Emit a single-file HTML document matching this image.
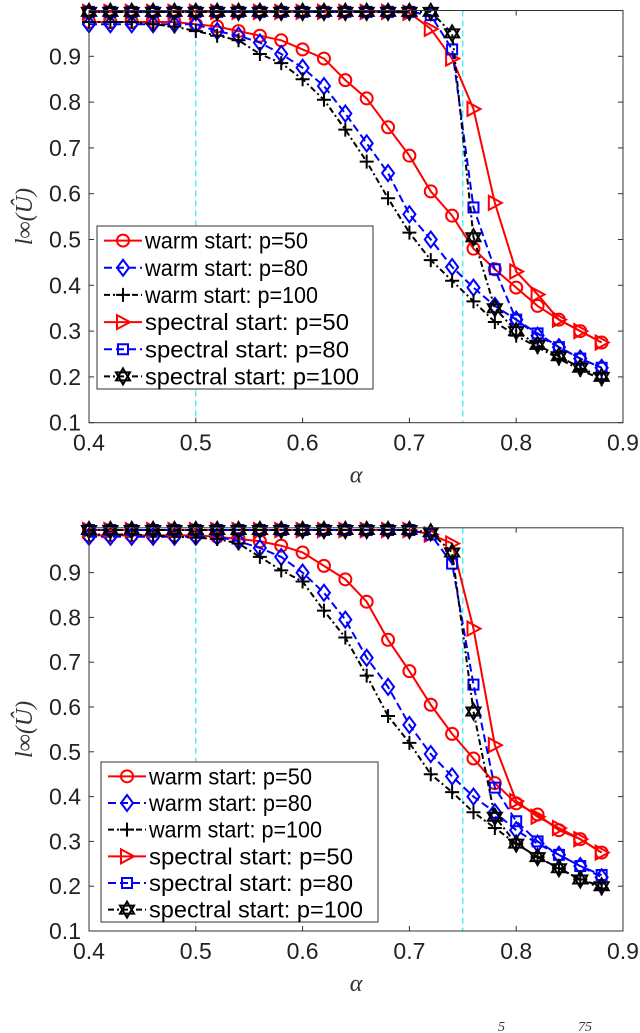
<!DOCTYPE html>
<html><head><meta charset="utf-8">
<style>
html,body{margin:0;padding:0;background:#fff;}
svg{display:block;font-family:"Liberation Sans",sans-serif;}
</style></head>
<body>
<svg id="chart" width="640" height="1033" viewBox="0 0 640 1033" xmlns="http://www.w3.org/2000/svg"></svg>
<script>
const alphas=[0.40,0.42,0.44,0.46,0.48,0.50,0.52,0.54,0.56,0.58,0.60,0.62,0.64,0.66,0.68,0.70,0.72,0.74,0.76,0.78,0.80,0.82,0.84,0.86,0.88];
const xTicks=[0.4,0.5,0.6,0.7,0.8,0.9];
const yTicks=[0.1,0.2,0.3,0.4,0.5,0.6,0.7,0.8,0.9];
const seriesNames=["warm start: p=50","warm start: p=80","warm start: p=100","spectral start: p=50","spectral start: p=80","spectral start: p=100"];
// top panel
const a_warm50=[0.975,0.975,0.975,0.975,0.975,0.97,0.965,0.955,0.945,0.935,0.915,0.895,0.848,0.808,0.745,0.683,0.605,0.552,0.48,0.435,0.395,0.355,0.325,0.30,0.275];
const a_warm80=[0.97,0.97,0.97,0.97,0.97,0.97,0.955,0.945,0.93,0.905,0.875,0.835,0.775,0.71,0.645,0.555,0.50,0.44,0.395,0.355,0.325,0.29,0.265,0.24,0.22];
const a_warm100=[0.975,0.975,0.975,0.97,0.965,0.955,0.945,0.935,0.905,0.885,0.85,0.805,0.74,0.67,0.59,0.515,0.455,0.41,0.365,0.32,0.29,0.265,0.24,0.215,0.195];
const a_spec50=[0.997,0.997,0.997,0.997,0.997,0.997,0.997,0.997,0.997,0.997,0.997,0.997,0.997,0.997,0.997,0.995,0.96,0.895,0.785,0.58,0.43,0.38,0.325,0.30,0.275];
const a_spec80=[0.997,0.997,0.997,0.997,0.997,0.997,0.997,0.997,0.997,0.997,0.997,0.997,0.997,0.997,0.997,0.997,0.99,0.915,0.57,0.435,0.325,0.295,0.265,0.24,0.22];
const a_spec100=[0.997,0.997,0.997,0.997,0.997,0.997,0.997,0.997,0.997,0.997,0.997,0.997,0.997,0.997,0.997,0.997,0.997,0.95,0.505,0.35,0.30,0.27,0.245,0.22,0.20];
// bottom panel
const b_warm50=[0.983,0.983,0.983,0.983,0.983,0.983,0.98,0.975,0.97,0.96,0.945,0.915,0.885,0.835,0.75,0.68,0.605,0.54,0.485,0.43,0.385,0.36,0.325,0.305,0.275];
const b_warm80=[0.98,0.98,0.98,0.98,0.98,0.98,0.98,0.97,0.955,0.935,0.90,0.855,0.795,0.71,0.645,0.56,0.495,0.445,0.40,0.365,0.325,0.295,0.27,0.245,0.22];
const b_warm100=[0.985,0.985,0.985,0.983,0.98,0.978,0.975,0.965,0.935,0.905,0.88,0.815,0.755,0.67,0.58,0.52,0.45,0.41,0.365,0.33,0.295,0.265,0.24,0.215,0.195];
const b_spec50=[0.995,0.995,0.995,0.995,0.995,0.995,0.995,0.995,0.995,0.995,0.995,0.995,0.995,0.995,0.995,0.995,0.985,0.965,0.775,0.515,0.39,0.355,0.33,0.305,0.275];
const b_spec80=[0.995,0.995,0.995,0.995,0.995,0.995,0.995,0.995,0.995,0.995,0.995,0.995,0.995,0.995,0.995,0.995,0.985,0.92,0.65,0.42,0.345,0.30,0.27,0.245,0.225];
const b_spec100=[0.995,0.995,0.995,0.995,0.995,0.995,0.995,0.995,0.995,0.995,0.995,0.995,0.995,0.995,0.995,0.995,0.99,0.945,0.59,0.355,0.295,0.265,0.24,0.215,0.20];

const NS="http://www.w3.org/2000/svg";
const svg=document.getElementById('chart');
function mk(tag,attrs,parent){const e=document.createElementNS(NS,tag);for(const k in attrs)e.setAttribute(k,attrs[k]);(parent||svg).appendChild(e);return e;}

const styles=[
 {c:"#ff0000",dash:"",m:"circle"},
 {c:"#0000ff",dash:"8,4",m:"diamond"},
 {c:"#000000",dash:"6,3,2,3",m:"plus"},
 {c:"#ff0000",dash:"",m:"tri"},
 {c:"#0000ff",dash:"8,4",m:"square"},
 {c:"#000000",dash:"6,3,2,3",m:"star"}
];

function marker(g,type,x,y,c){
  const a={fill:"none",stroke:c,"stroke-width":2};
  let e;
  if(type==="circle") e=mk('circle',Object.assign({cx:x,cy:y,r:6},a),g);
  else if(type==="diamond") e=mk('polygon',Object.assign({points:`${x},${y-8} ${x+6},${y} ${x},${y+8} ${x-6},${y}`},a),g);
  else if(type==="plus") e=mk('path',Object.assign({d:`M${x-7},${y}H${x+7}M${x},${y-7}V${y+7}`},a),g);
  else if(type==="tri") e=mk('polygon',Object.assign({points:`${x-6},${y-7} ${x+7},${y} ${x-6},${y+7}`},a),g);
  else if(type==="square") e=mk('rect',Object.assign({x:x-5,y:y-5,width:10,height:10},a),g);
  else { e=mk('path',Object.assign({d:`M${x},${y-8}L${x+7},${y+4}L${x-7},${y+4}ZM${x},${y+8}L${x+7},${y-4}L${x-7},${y-4}Z`},a),g); }
  
  
}

function panel(name,top,y01,yPer,data,leg){
  const x0=89,x1=623;
  const X=v=>x0+(v-0.4)/0.5*(x1-x0);
  const Y=v=>y01-(v-0.1)/0.1*yPer;
  const yTop=Y(1.0), yBot=Y(0.1);
  const g=mk('g',{});
  
  
  mk('rect',{x:x0,y:yTop,width:x1-x0,height:yBot-yTop,fill:"#fff",stroke:"none"},g);
  [0.5,0.75].forEach(v=>{
    const l=mk('line',{x1:X(v),x2:X(v),y1:yTop,y2:yBot,stroke:"#00e5ee","stroke-width":1,"stroke-dasharray":"6,4"},g);
    
    
  });
  xTicks.forEach(t=>{
    mk('line',{x1:X(t),x2:X(t),y1:yBot,y2:yBot-5,stroke:"#333"},g);
    mk('line',{x1:X(t),x2:X(t),y1:yTop,y2:yTop+5,stroke:"#333"},g);
    const tx=mk('text',{x:X(t),y:yBot+28,"font-size":23,"text-anchor":"middle",fill:"#222"},g);
    tx.textContent=t.toFixed(1);
    
    
  });
  yTicks.forEach(t=>{
    mk('line',{x1:x0,x2:x0+5,y1:Y(t),y2:Y(t),stroke:"#333"},g);
    mk('line',{x1:x1,x2:x1-5,y1:Y(t),y2:Y(t),stroke:"#333"},g);
    const tx=mk('text',{x:x0-8,y:Y(t)+8,"font-size":23,"text-anchor":"end",fill:"#222"},g);
    tx.textContent=t.toFixed(1);
    
    
  });
  data.forEach((vals,i)=>{
    const s=styles[i];
    const sg=mk('g',{},g);
    
    
    const pts=vals.map((v,k)=>X(alphas[k])+","+Y(v)).join(" ");
    mk('polyline',{points:pts,fill:"none",stroke:s.c,"stroke-width":2,"stroke-dasharray":s.dash},sg);
    vals.forEach((v,k)=>marker(sg,s.m,X(alphas[k]),Y(v),s.c));
  });
  mk('rect',{x:x0,y:yTop,width:x1-x0,height:yBot-yTop,fill:"none",stroke:"#333","stroke-width":1},g);
  const xl=mk('text',{x:(x0+x1)/2,y:yBot+60,"font-size":24,"font-style":"italic","text-anchor":"middle","font-family":"Liberation Serif, serif",fill:"#333"},g);
  xl.textContent="α";
  
  
  const yl=mk('text',{x:0,y:0,"font-size":24,"font-style":"italic","text-anchor":"middle","font-family":"Liberation Serif, serif",fill:"#333",transform:`translate(32,${(yTop+yBot)/2}) rotate(-90)`},g);
  yl.textContent="l∞(Û)";
  
  
  const lg=mk('g',{},g);
  
  
  mk('rect',{x:leg.x,y:leg.y,width:leg.w,height:leg.h,fill:"#fff",stroke:"#333","stroke-width":1},lg);
  const rh=leg.h/6;
  seriesNames.forEach((n,i)=>{
    const s=styles[i];
    const cy=leg.y+rh*(i+0.5)+1;
    const eg=mk('g',{},lg);
    
    
    mk('line',{x1:leg.x+7,x2:leg.x+45,y1:cy,y2:cy,stroke:s.c,"stroke-width":2,"stroke-dasharray":s.dash},eg);
    marker(eg,s.m,leg.x+26,cy,s.c);
    const t=mk('text',{x:leg.x+48,y:cy+8,"font-size":23,fill:"#000",textLength:(n.length*10.2).toFixed(0),lengthAdjust:"spacingAndGlyphs"},eg);
    t.textContent=n;
  });
}

panel('top-chart',0,422.7,45.8,[a_warm50,a_warm80,a_warm100,a_spec50,a_spec80,a_spec100],{x:97,y:226,w:276,h:163});
panel('bottom-chart',500,931,44.8,[b_warm50,b_warm80,b_warm100,b_spec50,b_spec80,b_spec100],{x:101,y:762,w:277,h:160});

const f1=mk('text',{x:498,y:1031,"font-size":14,"font-style":"italic","font-family":"Liberation Serif, serif",fill:"#333"});
f1.textContent="5";


const f2=mk('text',{x:578,y:1031,"font-size":14,"font-style":"italic","font-family":"Liberation Serif, serif",fill:"#333"});
f2.textContent="75";


</script>
</body></html>
